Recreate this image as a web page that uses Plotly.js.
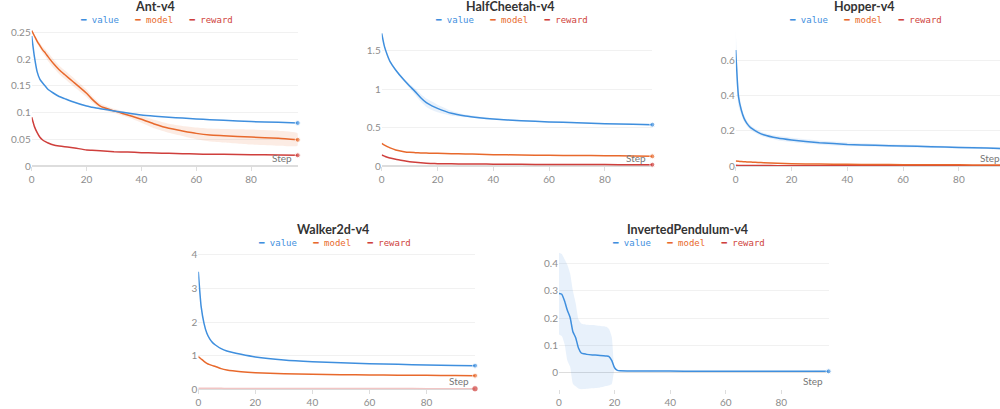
<!DOCTYPE html>
<html><head><meta charset="utf-8">
<script src="https://cdn.plot.ly/plotly-3.0.1.min.js"></script>
<style>html,body{margin:0;padding:0;overflow:hidden;background:#fff;width:1000px;height:409px}#chart{width:1010px;height:409px}</style>
</head><body><div id="chart"></div><script>
// ---------- data ----------
const seriesNames = ['value', 'model', 'reward'];
const xTickVals = [0, 20, 40, 60, 80];

// Ant-v4
const antSteps  = [0,1,2,3,4,5,6,8,10,12,15,20,22,25,30,35,40,45,50,55,60,65,70,80,90,97];
const antValue  = [0.243,0.204,0.176,0.162,0.155,0.149,0.143,0.136,0.130,0.126,0.120,0.112,0.110,0.107,0.103,0.099,0.0954,0.093,0.091,0.0895,0.088,0.0866,0.0854,0.083,0.0817,0.0804];
const antModel  = [0.253,0.243,0.233,0.225,0.217,0.211,0.204,0.191,0.180,0.171,0.158,0.136,0.125,0.112,0.103,0.0954,0.0873,0.078,0.0704,0.0655,0.061,0.058,0.0567,0.054,0.0517,0.049];
const antModelUpper = [0.255,0.246,0.237,0.230,0.223,0.218,0.212,0.199,0.188,0.179,0.166,0.143,0.131,0.117,0.107,0.100,0.094,0.086,0.079,0.075,0.072,0.070,0.069,0.068,0.066,0.061];
const antModelLower = [0.251,0.240,0.229,0.220,0.211,0.204,0.196,0.183,0.172,0.163,0.150,0.129,0.119,0.107,0.099,0.091,0.081,0.070,0.062,0.056,0.050,0.046,0.044,0.040,0.038,0.038];
const antReward = [0.091,0.0736,0.0623,0.0536,0.0486,0.0455,0.043,0.0393,0.0374,0.036,0.0343,0.030,0.0295,0.0285,0.0268,0.026,0.025,0.0243,0.0237,0.023,0.0224,0.022,0.0218,0.0212,0.0205,0.020];
const antYTicks = [0, 0.05, 0.1, 0.15, 0.2, 0.25];

// HalfCheetah-v4
const hcSteps  = [0,1,2,3,5,8,10,12,14,16,18,20,25,30,35,40,50,60,70,80,90,97];
const hcValue  = [1.73,1.556,1.448,1.36,1.252,1.12,1.043,0.97,0.89,0.825,0.785,0.752,0.687,0.652,0.63,0.613,0.591,0.574,0.565,0.552,0.545,0.539];
const hcValueUpper = [1.74,1.57,1.46,1.375,1.265,1.14,1.07,1.01,0.94,0.88,0.84,0.80,0.72,0.67,0.645,0.623,0.60,0.583,0.573,0.56,0.552,0.546];
const hcValueLower = [1.72,1.54,1.435,1.345,1.24,1.10,1.015,0.93,0.84,0.77,0.73,0.70,0.655,0.635,0.617,0.603,0.582,0.566,0.557,0.544,0.538,0.532];
const hcModel  = [0.296,0.272,0.252,0.236,0.209,0.187,0.178,0.174,0.171,0.168,0.167,0.165,0.161,0.157,0.153,0.148,0.143,0.139,0.137,0.135,0.131,0.126];
const hcReward = [0.143,0.128,0.113,0.104,0.087,0.068,0.0565,0.048,0.042,0.036,0.033,0.030,0.028,0.026,0.025,0.024,0.0217,0.020,0.019,0.018,0.0175,0.017];
const hcYTicks = [0, 0.5, 1, 1.5];

// Hopper-v4
const hpSteps  = [0,1,2,3,4,5,6,8,10,15,20,30,40,50,60,70,80,90,97];
const hpValue  = [0.661,0.395,0.319,0.2715,0.243,0.224,0.211,0.192,0.178,0.159,0.148,0.133,0.123,0.118,0.114,0.110,0.106,0.1025,0.099];
const hpValueUpper = [0.775,0.45,0.345,0.29,0.258,0.238,0.224,0.204,0.19,0.172,0.161,0.145,0.134,0.127,0.122,0.117,0.112,0.108,0.104];
const hpValueLower = [0.55,0.34,0.293,0.253,0.228,0.21,0.198,0.18,0.166,0.146,0.135,0.121,0.112,0.109,0.106,0.103,0.1,0.097,0.094];
const hpModel  = [0.0285,0.027,0.0255,0.0245,0.0235,0.0228,0.022,0.0205,0.019,0.016,0.0133,0.011,0.0095,0.0085,0.0076,0.007,0.0065,0.006,0.0057];
const hpReward = [0.004,0.0035,0.003,0.003,0.003,0.0028,0.0027,0.0025,0.0024,0.0021,0.002,0.0018,0.0016,0.0015,0.0014,0.0013,0.0012,0.0012,0.0011];
const hpYTicks = [0, 0.2, 0.4, 0.6];

// Walker2d-v4
const wkSteps  = [0,1,2,3,4,5,6,8,10,15,20,30,40,50,60,70,80,90,97];
const wkValue  = [3.50,2.46,1.965,1.667,1.50,1.39,1.32,1.21,1.14,1.042,0.963,0.873,0.824,0.794,0.764,0.744,0.725,0.708,0.705];
const wkModel  = [0.973,0.903,0.834,0.774,0.735,0.705,0.68,0.615,0.576,0.526,0.496,0.466,0.447,0.436,0.427,0.422,0.417,0.412,0.407];
const wkReward = [0.032,0.031,0.03,0.03,0.029,0.029,0.028,0.028,0.027,0.026,0.025,0.024,0.023,0.022,0.021,0.021,0.02,0.02,0.02];
const wkYTicks = [0, 1, 2, 3, 4];

// InvertedPendulum-v4
const ipSteps  = [0,1,2,3,4,5,6,7,8,9,10,12,14,16,17,18,19,20,21,22,25,30,40,50,60,70,80,90,97];
const ipValue  = [0.290,0.287,0.262,0.228,0.202,0.150,0.128,0.090,0.072,0.069,0.067,0.065,0.064,0.062,0.061,0.059,0.044,0.018,0.0085,0.007,0.0065,0.006,0.0058,0.0055,0.005,0.005,0.005,0.005,0.005];
const ipValueUpper = [0.439,0.434,0.415,0.395,0.363,0.300,0.255,0.195,0.180,0.177,0.175,0.174,0.172,0.170,0.168,0.160,0.130,0.020,0.010,0.009,0.008,0.008,0.007,0.007,0.006,0.006,0.006,0.006,0.006];
const ipValueLower = [0.140,0.134,0.105,0.045,0.022,-0.040,-0.050,-0.058,-0.061,-0.060,-0.059,-0.057,-0.055,-0.051,-0.049,-0.046,-0.041,0.012,0.007,0.005,0.005,0.004,0.004,0.004,0.004,0.004,0.004,0.004,0.004];
const ipYTicks = [0, 0.1, 0.2, 0.3, 0.4];

// ---------- styling / layout ----------
const W = 1010, H = 409;
const COLORS = {value: '#3f8fde', model: '#e8692c', reward: '#cf3f3c'};
const BAND = {value: 'rgba(63,143,222,0.12)', model: 'rgba(232,105,44,0.13)'};
const FONT = 'Lato, "Noto Sans", sans-serif';
const MONO = '"DejaVu Sans Mono", monospace';
const px = p => p / W;
const py = p => 1 - p / H;

const panels = [
  {title: 'Ant-v4', steps: antSteps, value: antValue, model: antModel, reward: antReward,
   band: {key: 'model', up: antModelUpper, lo: antModelLower}, yt: antYTicks,
   x0: 31.7, x1: 297.7, top: 29.8, bot: 166, yr: [0, 0.2546], tc: 155, tY: 6.5, lY: 20},
  {title: 'HalfCheetah-v4', steps: hcSteps, value: hcValue, model: hcModel, reward: hcReward,
   band: {key: 'value', up: hcValueUpper, lo: hcValueLower}, yt: hcYTicks,
   x0: 381.7, x1: 652.3, top: 29.8, bot: 166, yr: [0, 1.776], tc: 510, tY: 6.5, lY: 20},
  {title: 'Hopper-v4', steps: hpSteps, value: hpValue, model: hpModel, reward: hpReward,
   band: {key: 'value', up: hpValueUpper, lo: hpValueLower}, yt: hpYTicks,
   x0: 735.7, x1: 1006.3, top: 29.8, bot: 166, yr: [0, 0.776], tc: 864, tY: 6.5, lY: 20},
  {title: 'Walker2d-v4', steps: wkSteps, value: wkValue, model: wkModel, reward: wkReward,
   band: null, yt: wkYTicks, faded: {reward: 'rgba(207,63,60,0.3)'},
   x0: 198.3, x1: 475, top: 252.5, bot: 389.3, yr: [0, 4.074], tc: 333, tY: 229, lY: 243.3},
  {title: 'InvertedPendulum-v4', steps: ipSteps, value: ipValue, model: null, reward: null,
   band: {key: 'value', up: ipValueUpper, lo: ipValueLower}, yt: ipYTicks,
   x0: 559, x1: 828.6, top: 252.5, bot: 389.3, yr: [-0.0607, 0.4395], tc: 687, tY: 229, lY: 243.3}
];

const traces = [];
const layout = {
  width: W, height: H, margin: {l: 0, r: 0, t: 0, b: 0},
  paper_bgcolor: '#fff', plot_bgcolor: '#fff', showlegend: false,
  annotations: [], font: {family: FONT}
};

panels.forEach((p, i) => {
  const n = i + 1;
  const xa = 'x' + n, ya = 'y' + n;
  const xk = 'xaxis' + n, yk = 'yaxis' + n;
  layout[xk] = {
    domain: [px(p.x0), px(p.x1)], range: [0, 97], anchor: ya,
    tickvals: xTickVals, showgrid: false, zeroline: false, showline: false,
    ticks: 'outside', ticklen: 4, tickcolor: '#dddddd', tickwidth: 1,
    tickfont: {family: FONT, size: 10, color: '#8c8c8c'}, fixedrange: true
  };
  layout[yk] = {
    domain: [py(p.bot), py(p.top)], range: p.yr, anchor: xa,
    tickvals: p.yt, ticktext: p.yt.map(String), showgrid: true, gridcolor: '#f1f1f1', gridwidth: 1,
    zeroline: true, zerolinecolor: '#dddddd', zerolinewidth: 1.5, showline: false, ticks: '',
    tickfont: {family: FONT, size: 10, color: '#8c8c8c'}, fixedrange: true
  };
  if (p.band) {
    traces.push({
      x: p.steps.concat(p.steps.slice().reverse()),
      y: p.band.up.concat(p.band.lo.slice().reverse()),
      xaxis: xa, yaxis: ya, mode: 'lines', fill: 'toself', fillcolor: BAND[p.band.key],
      line: {width: 0, shape: 'spline', smoothing: 0.5}, hoverinfo: 'skip', showlegend: false
    });
  }
  ['reward', 'model', 'value'].forEach(k => {
    const ys = p[k];
    if (!ys) return;
    const last = p.steps.length - 1;
    const lineColor = (p.faded && p.faded[k]) ? p.faded[k] : COLORS[k];
    traces.push({
      x: p.steps, y: ys, xaxis: xa, yaxis: ya, name: k,
      mode: 'lines+markers', cliponaxis: false,
      line: {color: lineColor, width: 1.5, shape: 'spline', smoothing: 0.5},
      marker: {color: COLORS[k], size: p.steps.map((_, j) => j === last ? 5 : 0)},
      showlegend: false
    });
  });
  // title
  layout.annotations.push({
    text: '<b>' + p.title + '</b>', xref: 'paper', yref: 'paper', x: px(p.tc), y: py(p.tY),
    xanchor: 'center', yanchor: 'middle', showarrow: false,
    font: {family: FONT, size: 12.5, color: '#333333'}
  });
  // legend
  const gap = '\u00a0\u00a0\u00a0';
  const legendText = seriesNames.map(s =>
    '<span style="color:' + COLORS[s] + '">\u2501\u00a0' + s + '</span>').join(gap);
  layout.annotations.push({
    text: legendText, xref: 'paper', yref: 'paper', x: px(p.tc + 1), y: py(p.lY),
    xanchor: 'center', yanchor: 'middle', showarrow: false,
    font: {family: MONO, size: 9}
  });
  // Step label
  layout.annotations.push({
    text: 'Step', xref: xa + ' domain', yref: ya + ' domain', x: 1, y: 0,
    xanchor: 'right', yanchor: 'bottom', xshift: -4, yshift: 0, showarrow: false,
    font: {family: FONT, size: 10, color: '#777777'}
  });
});

Plotly.newPlot('chart', traces, layout, {staticPlot: true, displayModeBar: false});
</script></body></html>
